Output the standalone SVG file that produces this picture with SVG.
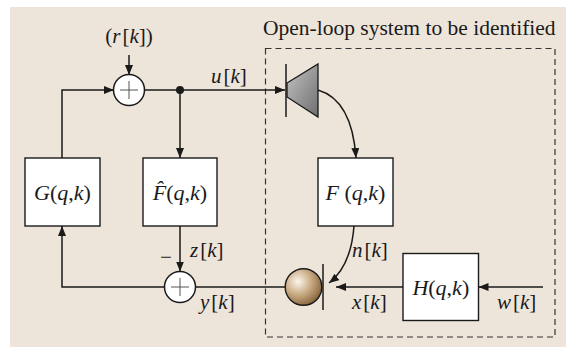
<svg xmlns="http://www.w3.org/2000/svg" width="566" height="347" viewBox="0 0 566 347">
  <defs>
    <marker id="arr" viewBox="0 0 10 8" refX="10" refY="4" markerWidth="10" markerHeight="8" markerUnits="userSpaceOnUse" orient="auto">
      <path d="M0,0 L10,4 L0,8 Z" fill="#1a1a1a"/>
    </marker>
    <linearGradient id="horn" x1="0" y1="0" x2="1" y2="1">
      <stop offset="0" stop-color="#c4c4c4"/>
      <stop offset="1" stop-color="#6e6e6e"/>
    </linearGradient>
    <radialGradient id="ball" cx="0.35" cy="0.35" r="0.75">
      <stop offset="0" stop-color="#fbf6ee"/>
      <stop offset="0.45" stop-color="#cdb08a"/>
      <stop offset="1" stop-color="#7d5a30"/>
    </radialGradient>
    <style>
      .box { fill: #ffffff; stroke: #1a1a1a; stroke-width: 1.4; }
      .wire { fill: none; stroke: #1a1a1a; stroke-width: 1.5; }
      .sum { fill: #ffffff; stroke: #1a1a1a; stroke-width: 1.5; }
      .plus { stroke: #555; stroke-width: 1; }
      .t { font-family: "Liberation Serif", "Times New Roman", serif; font-size: 21.5px; fill: #1a1a1a; }
      .m { font-family: "Liberation Serif", "Times New Roman", serif; font-size: 21px; fill: #1a1a1a; }
      .b { font-family: "Liberation Serif", "Times New Roman", serif; font-size: 22px; fill: #1a1a1a; }
      .i { font-style: italic; }
    </style>
  </defs>

  <!-- backdrop -->
  <rect x="10" y="7" width="556" height="340" fill="#eee5da"/>

  <!-- boundary of the open-loop plant -->
  <g id="plant-boundary">
    <rect x="265.5" y="48.5" width="289.5" height="288.5" fill="none" stroke="#333" stroke-width="1.2" stroke-dasharray="6,4"/>
    <text class="t" x="263" y="35">Open-loop system to be identified</text>
  </g>

  <!-- connectors -->
  <g id="connectors">
    <line class="wire" x1="129" y1="55" x2="129" y2="75" marker-end="url(#arr)"/>
    <polyline class="wire" points="62,158 62,90 114,90" marker-end="url(#arr)"/>
    <line class="wire" x1="144.5" y1="90" x2="285" y2="90" marker-end="url(#arr)"/>
    <line class="wire" x1="180" y1="90" x2="180" y2="158" marker-end="url(#arr)"/>
    <circle cx="180" cy="90" r="4" fill="#1a1a1a"/>
    <path class="wire" d="M318,90 Q352,100 356,158" marker-end="url(#arr)"/>
    <line class="wire" x1="180" y1="226" x2="180" y2="271.5" marker-end="url(#arr)"/>
    <polyline class="wire" points="164.5,287 62,287 62,226" marker-end="url(#arr)"/>
    <line class="wire" x1="195.5" y1="287" x2="285" y2="287"/>
    <path class="wire" d="M354,226 Q351,266 329,283" marker-end="url(#arr)"/>
    <line class="wire" x1="403" y1="287" x2="336" y2="287" marker-end="url(#arr)"/>
    <line class="wire" x1="543" y1="287" x2="478.5" y2="287" marker-end="url(#arr)"/>
  </g>

  <!-- signal labels -->
  <g id="labels">
    <text class="m" x="129" y="43" text-anchor="middle">(<tspan class="i">r</tspan><tspan dx="2">[</tspan><tspan class="i">k</tspan>])</text>
    <text class="m" x="211" y="83"><tspan class="i">u</tspan><tspan dx="2">[</tspan><tspan class="i">k</tspan>]</text>
    <text class="m" x="190" y="257"><tspan class="i">z</tspan><tspan dx="2">[</tspan><tspan class="i">k</tspan>]</text>
    <text class="m" x="166" y="264" text-anchor="middle">−</text>
    <text class="m" x="200" y="309"><tspan class="i">y</tspan><tspan dx="2">[</tspan><tspan class="i">k</tspan>]</text>
    <text class="m" x="352" y="257"><tspan class="i">n</tspan><tspan dx="2">[</tspan><tspan class="i">k</tspan>]</text>
    <text class="m" x="352" y="309"><tspan class="i">x</tspan><tspan dx="2">[</tspan><tspan class="i">k</tspan>]</text>
    <text class="m" x="497" y="309"><tspan class="i">w</tspan><tspan dx="2">[</tspan><tspan class="i">k</tspan>]</text>
  </g>

  <!-- summing junctions -->
  <g id="sum-top">
    <circle class="sum" cx="129" cy="90" r="15.5"/>
    <line class="plus" x1="120" y1="90" x2="138" y2="90"/>
    <line class="plus" x1="129" y1="81" x2="129" y2="99"/>
  </g>
  <g id="sum-bottom">
    <circle class="sum" cx="180" cy="287" r="15.5"/>
    <line class="plus" x1="171" y1="287" x2="189" y2="287"/>
    <line class="plus" x1="180" y1="278" x2="180" y2="296"/>
  </g>

  <!-- controller -->
  <g id="G">
    <rect class="box" x="25" y="158" width="75" height="68"/>
    <text class="b" x="62.5" y="200" text-anchor="middle"><tspan class="i">G</tspan>(<tspan class="i">q</tspan>,<tspan class="i">k</tspan>)</text>
  </g>

  <!-- plant model -->
  <g id="Fhat">
    <rect class="box" x="143" y="158" width="74" height="68"/>
    <text class="b" x="180" y="200" text-anchor="middle"><tspan class="i">F̂</tspan>(<tspan class="i">q</tspan>,<tspan class="i">k</tspan>)</text>
  </g>

  <!-- actuator -->
  <g id="speaker">
    <polygon points="287,83 318,64 318,117 287,97" fill="url(#horn)" stroke="#1a1a1a" stroke-width="1.3"/>
    <line x1="286" y1="64" x2="286" y2="117" stroke="#1a1a1a" stroke-width="1.5"/>
  </g>

  <!-- secondary path -->
  <g id="F">
    <rect class="box" x="318" y="158" width="75" height="68"/>
    <text class="b" x="355.5" y="200" text-anchor="middle"><tspan class="i">F</tspan> (<tspan class="i">q</tspan>,<tspan class="i">k</tspan>)</text>
  </g>

  <!-- sensor -->
  <g id="microphone">
    <circle cx="303.5" cy="287" r="18.3" fill="url(#ball)" stroke="#1a1a1a" stroke-width="1.4"/>
    <line x1="323" y1="264" x2="323" y2="310" stroke="#1a1a1a" stroke-width="1.5"/>
  </g>

  <!-- disturbance filter -->
  <g id="H">
    <rect class="box" x="403" y="253.5" width="75.5" height="67"/>
    <text class="b" x="440.8" y="295" text-anchor="middle"><tspan class="i">H</tspan>(<tspan class="i">q</tspan>,<tspan class="i">k</tspan>)</text>
  </g>
</svg>
